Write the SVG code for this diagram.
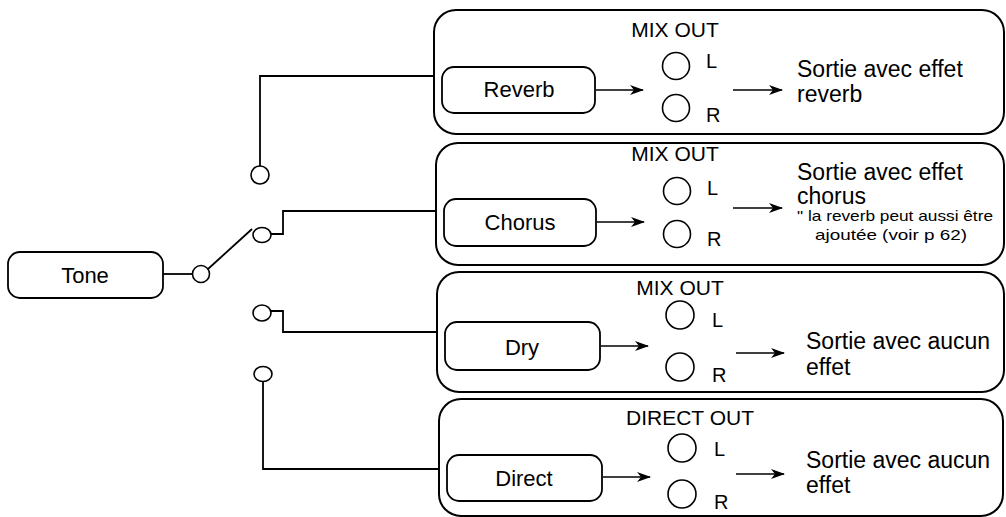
<svg xmlns="http://www.w3.org/2000/svg" width="1006" height="517" viewBox="0 0 1006 517">
<defs>
<style>
.panel{fill:none;stroke:#000;stroke-width:2}
.box{fill:#fff;stroke:#000;stroke-width:1.8}
.jack{fill:#fff;stroke:#000;stroke-width:1.6}
.wire{fill:none;stroke:#000;stroke-width:1.8}
.arr{fill:none;stroke:#000;stroke-width:1.6;marker-end:url(#ah)}
text{font-family:"Liberation Sans",Arial,sans-serif;fill:#000}
.lbl{font-size:22px;text-anchor:middle}
.hd{font-size:21px;text-anchor:middle}
.lr{font-size:20px}
.out{font-size:23px}
.note{font-size:15px}
</style>
<marker id="ah" viewBox="0 0 14 10" refX="13" refY="5" markerWidth="14" markerHeight="10" markerUnits="userSpaceOnUse" orient="auto">
<path d="M0,0 L14,5 L0,10 L4,5 Z" fill="#000"/>
</marker>
</defs>
<g id="connectors">
<line class="wire" x1="163" y1="274" x2="192" y2="274"/>
<line class="wire" x1="208" y1="269" x2="252" y2="229"/>
<polyline class="wire" points="260,166 260,76 434,76"/>
<polyline class="wire" points="271,234 283,234 283,211 436,211"/>
<polyline class="wire" points="271,311 283,311 283,332 437,332"/>
<polyline class="wire" points="263,381 263,469 439,469"/>
<circle class="jack" cx="201" cy="274" r="8.5"/>
<circle class="jack" cx="260" cy="175" r="9"/>
<ellipse class="jack" cx="262" cy="235" rx="9" ry="7.5"/>
<ellipse class="jack" cx="262" cy="313" rx="9" ry="8"/>
<ellipse class="jack" cx="263" cy="374" rx="9" ry="7.5"/>
</g>
<g id="tone">
<rect class="box" x="8" y="252" width="155" height="46" rx="12"/>
<text class="lbl" x="85" y="283">Tone</text>
</g>
<g id="panel-reverb">
<rect class="panel" x="434" y="10" width="570" height="124" rx="22"/>
<text class="hd" x="675" y="37">MIX OUT</text>
<rect class="box" x="442" y="67" width="153" height="46" rx="12"/>
<text class="lbl" x="519" y="97">Reverb</text>
<line class="arr" x1="596" y1="90" x2="643" y2="90"/>
<circle class="jack" cx="676" cy="66" r="13.5"/>
<circle class="jack" cx="676" cy="108" r="13.5"/>
<text class="lr" x="706" y="68">L</text>
<text class="lr" x="706" y="122">R</text>
<line class="arr" x1="733" y1="90" x2="782" y2="90"/>
<text class="out" x="797" y="77">Sortie avec effet</text>
<text class="out" x="797" y="102">reverb</text>
</g>
<g id="panel-chorus">
<rect class="panel" x="436" y="143" width="568" height="122" rx="22"/>
<text class="hd" x="675" y="161">MIX OUT</text>
<rect class="box" x="444" y="199" width="152" height="47" rx="12"/>
<text class="lbl" x="520" y="230">Chorus</text>
<line class="arr" x1="597" y1="222" x2="644" y2="222"/>
<circle class="jack" cx="677" cy="191" r="13.5"/>
<circle class="jack" cx="677" cy="234" r="13.5"/>
<text class="lr" x="707" y="195">L</text>
<text class="lr" x="707" y="246">R</text>
<line class="arr" x1="733" y1="208" x2="782" y2="208"/>
<text class="out" x="797" y="180">Sortie avec effet</text>
<text class="out" x="797" y="204">chorus</text>
<text class="note" x="797" y="221" textLength="196" lengthAdjust="spacingAndGlyphs">" la reverb peut aussi être</text>
<text class="note" x="815" y="240" textLength="152" lengthAdjust="spacingAndGlyphs">ajoutée (voir p 62)</text>
</g>
<g id="panel-dry">
<rect class="panel" x="437" y="272" width="567" height="120" rx="22"/>
<text class="hd" x="680" y="295">MIX OUT</text>
<rect class="box" x="445" y="322" width="155" height="48" rx="12"/>
<text class="lbl" x="522" y="355">Dry</text>
<line class="arr" x1="601" y1="346" x2="648" y2="346"/>
<circle class="jack" cx="680" cy="315" r="14"/>
<circle class="jack" cx="680" cy="367" r="14"/>
<text class="lr" x="712" y="327">L</text>
<text class="lr" x="712" y="382">R</text>
<line class="arr" x1="736" y1="353" x2="784" y2="353"/>
<text class="out" x="806" y="349">Sortie avec aucun</text>
<text class="out" x="806" y="375">effet</text>
</g>
<g id="panel-direct">
<rect class="panel" x="439" y="399" width="564" height="117" rx="22"/>
<text class="hd" x="690" y="425">DIRECT OUT</text>
<rect class="box" x="447" y="455" width="155" height="46" rx="12"/>
<text class="lbl" x="524" y="486">Direct</text>
<line class="arr" x1="603" y1="477" x2="650" y2="477"/>
<circle class="jack" cx="682" cy="448" r="14"/>
<circle class="jack" cx="682" cy="494" r="14"/>
<text class="lr" x="714" y="456">L</text>
<text class="lr" x="714" y="509">R</text>
<line class="arr" x1="736" y1="474" x2="784" y2="474"/>
<text class="out" x="806" y="468">Sortie avec aucun</text>
<text class="out" x="806" y="493">effet</text>
</g>
</svg>
